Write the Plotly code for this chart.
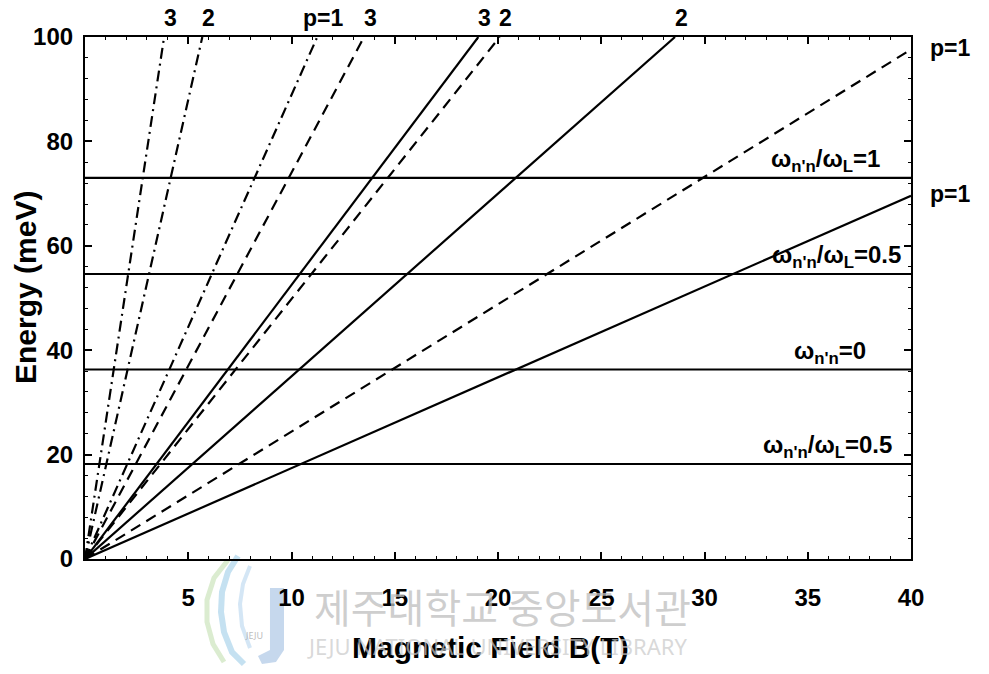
import plotly.graph_objects as go

# Landau-level energies E = slope * B for three effective masses (p = 1, 2, 3)
B_MAX = 40
E_MAX = 100
p_values = [1, 2, 3]
solid_slope = [1.74, 3.50, 5.25]      # meV/T
dashed_slope = [2.44, 4.98, 7.40]     # meV/T
dashdot_slope = [8.89, 17.6, 26.1]    # meV/T

# Phonon/transition levels (meV)
levels = [18.2, 36.3, 54.6, 73.0]
level_labels = [
    "ω<sub>n'n</sub>/ω<sub>L</sub>=0.5",
    "ω<sub>n'n</sub>=0",
    "ω<sub>n'n</sub>/ω<sub>L</sub>=0.5",
    "ω<sub>n'n</sub>/ω<sub>L</sub>=1",
]
level_label_x = [39.2, 37.9, 39.6, 38.6]

x_ticks = [5, 10, 15, 20, 25, 30, 35, 40]
y_ticks = [0, 20, 40, 60, 80, 100]

FONT = "Liberation Sans, Arial, sans-serif"
styles = [
    (solid_slope, "solid"),
    (dashed_slope, "11px,7px"),
    (dashdot_slope, "11px,5px,2px,5px"),
]

# figure geometry (pixels)
W, H = 989, 674
L, R, T, Bm = 85, 78, 37, 115
PW, PH = W - L - R, H - T - Bm


def px(x, y):
    """pixel position -> paper coordinates"""
    return (x - L) / PW, (H - Bm - y) / PH


fig = go.Figure()
annotations = []

for slopes, dash in styles:
    for p, s in zip(p_values, slopes):
        x_end = min(B_MAX, E_MAX / s)
        fig.add_trace(go.Scatter(
            x=[0, x_end], y=[0, s * x_end], mode="lines",
            line=dict(color="black", width=2.2, dash=dash),
            showlegend=False, hoverinfo="skip"))
        text = "p=1" if p == 1 else str(p)
        if s * B_MAX > E_MAX:
            annotations.append(dict(
                x=E_MAX / s, y=E_MAX, xref="x", yref="y", text=text,
                showarrow=False, xanchor="center", yanchor="middle",
                xshift=6, yshift=19,
                font=dict(family=FONT, size=23, color="black", weight="bold")))
        else:
            annotations.append(dict(
                x=B_MAX, y=s * B_MAX, xref="x", yref="y", text=text,
                showarrow=False, xanchor="left", yanchor="middle",
                xshift=17, yshift=2,
                font=dict(family=FONT, size=23, color="black", weight="bold")))

for lev, lab, lx in zip(levels, level_labels, level_label_x):
    fig.add_trace(go.Scatter(
        x=[0, B_MAX], y=[lev, lev], mode="lines",
        line=dict(color="black", width=2.2),
        showlegend=False, hoverinfo="skip"))
    annotations.append(dict(
        x=lx, y=lev, xref="x", yref="y", text=lab, showarrow=False,
        xanchor="right", yanchor="bottom", yshift=0,
        font=dict(family=FONT, size=24, color="black", weight="bold")))

# axis titles
annotations.append(dict(
    x=px(490, 0)[0], y=px(0, 648)[1], xref="paper", yref="paper",
    text="Magnetic Field B(T)", showarrow=False,
    xanchor="center", yanchor="middle",
    font=dict(family=FONT, size=30, color="black", weight="bold")))
annotations.append(dict(
    x=px(25, 0)[0], y=px(0, 288)[1], xref="paper", yref="paper",
    text="Energy (meV)", showarrow=False, textangle=-90,
    xanchor="center", yanchor="middle",
    font=dict(family=FONT, size=30, color="black", weight="bold")))

# library watermark
wx, wy = px(503, 606)
annotations.append(dict(
    x=wx, y=wy, xref="paper", yref="paper", text="제주대학교 중앙도서관",
    showarrow=False, xanchor="center", yanchor="middle",
    font=dict(family="Noto Sans CJK KR", size=40, color="rgba(190,190,190,0.75)")))
wx, wy = px(497, 646)
annotations.append(dict(
    x=wx, y=wy, xref="paper", yref="paper",
    text="JEJU NATIONAL UNIVERSITY LIBRARY",
    showarrow=False, xanchor="center", yanchor="middle",
    font=dict(family="Noto Sans", size=22, color="rgba(200,200,200,0.7)")))

shapes = []


def path_px(points):
    cmds = []
    for i, (x, y) in enumerate(points):
        u, v = px(x, y)
        cmds.append(("M" if i == 0 else "L") + f"{u:.5f},{v:.5f}")
    return " ".join(cmds)


# logo: curved strokes and the J bar
arc1 = [(238, 556), (228, 572), (222, 592), (221, 612), (224, 632), (232, 652), (244, 664)]
arc2 = [(228, 560), (214, 578), (207, 600), (207, 622), (213, 644), (224, 662)]
arc3 = [(250, 566), (243, 584), (240, 604), (242, 626), (250, 648)]
for pts, col, w in [(arc1, "rgba(150,200,230,0.55)", 6),
                    (arc2, "rgba(190,220,170,0.55)", 5),
                    (arc3, "rgba(170,205,235,0.5)", 4)]:
    shapes.append(dict(type="path", xref="paper", yref="paper",
                       path=path_px(pts),
                       line=dict(color=col, width=w), layer="below"))
j_bar = [(270, 588), (284, 588), (284, 650), (276, 662), (262, 664), (258, 656), (270, 650)]
shapes.append(dict(type="path", xref="paper", yref="paper",
                   path=path_px(j_bar) + " Z",
                   fillcolor="rgba(160,190,225,0.6)",
                   line=dict(width=0), layer="below"))
lx, ly = px(243, 644)
annotations.append(dict(
    x=lx, y=ly, xref="paper", yref="paper", text="JEJU", showarrow=False,
    font=dict(family="Noto Sans", size=9, color="rgba(170,170,170,0.8)")))

axis_common = dict(
    showline=True, linecolor="black", linewidth=2.2, mirror="allticks",
    ticks="inside", ticklen=7, tickwidth=1.5, tickcolor="black",
    showgrid=False, zeroline=False,
    tickfont=dict(family=FONT, size=24, color="black", weight="bold"),
)

fig.update_xaxes(
    range=[0, B_MAX], tickvals=x_ticks, ticktext=[str(v) for v in x_ticks],
    ticklabelstandoff=16,
    minor=dict(dtick=1, ticks="inside", ticklen=3, tickwidth=1, tickcolor="black"),
    **axis_common)
fig.update_yaxes(
    range=[0, E_MAX], tickvals=y_ticks, ticktext=[str(v) for v in y_ticks],
    ticklabelstandoff=5,
    minor=dict(dtick=4, ticks="inside", ticklen=3, tickwidth=1, tickcolor="black"),
    **axis_common)

fig.update_layout(
    width=W, height=H,
    margin=dict(l=L, r=R, t=T, b=Bm),
    paper_bgcolor="white", plot_bgcolor="white",
    annotations=annotations, shapes=shapes,
    showlegend=False,
)

fig.write_html("out.html")
